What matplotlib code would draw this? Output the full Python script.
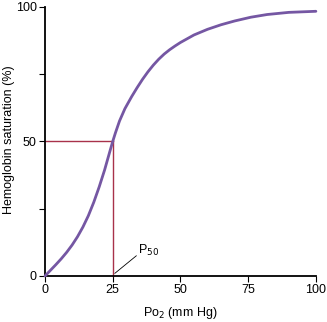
import matplotlib
matplotlib.use("Agg")
import matplotlib.pyplot as plt

# oxygen dissociation curve
po2 = [0, 2, 4, 6, 8, 10, 12, 14, 16, 18, 20, 22, 24, 25, 26, 27.5, 29.5, 32, 34, 36, 38,
       40, 42, 44, 46, 48, 50, 55, 60, 65, 70, 76, 82, 90, 100]
sat = [0, 2.1, 4.2, 6.4, 8.8, 11.5, 14.6, 18.2, 22.4, 27.4, 33.1, 39.4, 46.5, 50, 53.2, 57.6, 62.2, 66.7, 70, 73.1, 75.9,
       78.4, 80.6, 82.5, 84.1, 85.5, 86.8, 89.6, 91.7, 93.4, 94.8, 96.2, 97.2, 98.0, 98.4]
p50 = 25
ticks = [0, 25, 50, 75, 100]

plt.rcParams['font.family'] = ['Liberation Sans', 'DejaVu Sans']
plt.rcParams['font.size'] = 9

fig = plt.figure(figsize=(3.27, 3.22), dpi=100)
ax = fig.add_axes([0.1376, 0.1429, 0.8284, 0.8354])

ax.plot([0, p50], [50, 50], color='#a8324a', lw=1.0, clip_on=False)
ax.plot([p50, p50], [0, 50], color='#a8324a', lw=1.0, clip_on=False)
ax.plot(po2, sat, color='#7557a3', lw=2.0, clip_on=False,
        solid_capstyle='round', solid_joinstyle='round', zorder=3)

# P50 label with a short leader line
ax.plot([p50 + 0.8, p50 + 8.7], [1, 7.5], color='black', lw=0.6, clip_on=False)
ax.text(p50 + 9.5, 6.8, 'P$_{50}$', fontsize=9, va='bottom', ha='left')

ax.set_xlim(0, 100)
ax.set_ylim(0, 100)
ax.set_xticks(ticks)
ax.set_yticks(ticks)
ax.set_yticklabels(['0', '', '50', '', '100'])
for s in ['top', 'right']:
    ax.spines[s].set_visible(False)
for s in ['left', 'bottom']:
    ax.spines[s].set_linewidth(1.3)
ax.tick_params(direction='out', length=4, width=0.8, pad=2, labelsize=9)

ax.set_xlabel('Po$_2$ (mm Hg)', fontsize=9, labelpad=6)
ax.set_ylabel('Hemoglobin saturation (%)', fontsize=9)
ax.yaxis.set_label_coords(-0.111, 0.507)

fig.savefig('out.png', dpi=100)
